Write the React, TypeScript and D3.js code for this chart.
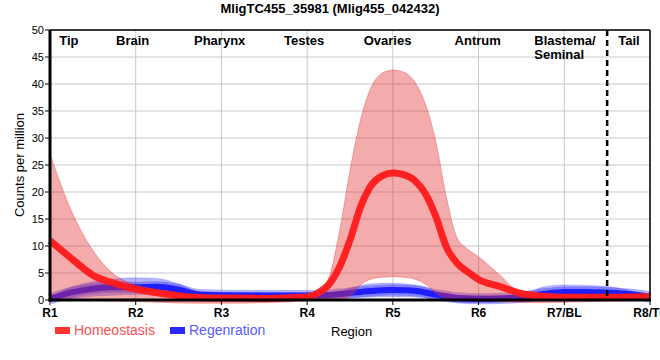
import React from "react";
import * as d3 from "d3";

const title = "MligTC455_35981 (Mlig455_042432)";
const regionPos = [1, 1.25, 1.5, 1.75, 2, 2.25, 2.5, 2.75, 3, 3.5, 4, 4.125, 4.25, 4.375, 4.5, 4.625, 4.75, 4.875, 5, 5.125, 5.25, 5.375, 5.5, 5.625, 5.75, 5.875, 6, 6.25, 6.5, 6.75, 7, 7.25, 7.5, 7.75, 8];

const homeoMean = [11, 7.7, 4.6, 3.1, 2.0, 1.35, 0.8, 0.45, 0.35, 0.3, 0.55, 1.3, 2.8, 6.0, 11.1, 17.3, 21.3, 23.0, 23.5, 23.2, 22.2, 19.8, 15.5, 9.8, 6.8, 5.2, 3.8, 2.5, 1.2, 0.7, 0.5, 0.5, 0.5, 0.55, 0.6];
const homeoUpper = [27, 16.5, 9.2, 4.7, 2.8, 1.9, 1.0, 0.6, 0.5, 0.5, 0.6, 1.6, 4.0, 12.5, 24, 33.5, 39.5, 42, 42.6, 42.2, 40.5, 36.5, 29.5, 19, 11.5, 9.4, 8.0, 4.6, 1.3, 0.9, 0.9, 0.9, 0.9, 0.9, 0.9];
const homeoLower = [0, 0, -0.1, -0.2, -0.3, -0.4, -0.55, -0.6, -0.6, -0.5, -0.1, 0.1, 0.2, 0.3, 0.7, 2.8, 3.9, 4.2, 4.3, 4.2, 3.9, 3.0, 1.3, 0.3, 0, -0.1, -0.2, -0.3, -0.45, -0.5, -0.4, -0.3, -0.2, -0.1, 0];

const regenMean = [0.2, 1.4, 2.1, 2.35, 2.35, 2.45, 1.9, 1.0, 0.9, 0.85, 0.85, 0.85, 0.95, 1.1, 1.3, 1.5, 1.65, 1.8, 1.85, 1.8, 1.7, 1.4, 1.0, 0.7, 0.4, 0.3, 0.25, 0.3, 0.5, 1.1, 1.5, 1.5, 1.35, 1.1, 0.6];
const regenUpper = [0.5, 2.4, 3.4, 3.9, 4.1, 4.0, 3.0, 1.5, 1.4, 1.35, 1.3, 1.3, 1.3, 1.5, 2.2, 2.7, 3.0, 3.1, 3.1, 3.0, 2.8, 2.4, 1.6, 1.0, 0.8, 0.8, 0.8, 0.8, 1.0, 2.4, 2.8, 2.7, 2.5, 1.8, 0.8];
const regenLower = [-0.3, 0.3, 0.7, 0.9, 1.0, 0.9, 0.6, 0.4, 0.4, 0.4, 0.4, 0.4, 0.4, 0.4, 0.45, 0.5, 0.55, 0.6, 0.6, 0.6, 0.55, 0.4, 0.2, -0.1, -0.4, -0.5, -0.5, -0.4, 0.0, 0.4, 0.6, 0.6, 0.5, 0.4, 0.3];

const xTickPos = [1, 2, 3, 4, 5, 6, 7, 8];
const xTickLabels = ["R1", "R2", "R3", "R4", "R5", "R6", "R7/BL", "R8/TL"];
const yTicks = [0, 5, 10, 15, 20, 25, 30, 35, 40, 45, 50];
const regionNames = ["Tip", "Brain", "Pharynx", "Testes", "Ovaries", "Antrum", "Blastema/|Seminal", "Tail"];
const regionNamePos = [1.108, 1.77, 2.68, 3.73, 4.66, 5.72, 6.65, 7.63];
const dividerPos = 7.5;
const seriesNames = ["Homeostasis", "Regenration"];

const W = 660, H = 360;
const L = 50, R = 650, T = 30, B = 300;

export default function App() {
  const x = d3.scaleLinear().domain([1, 8]).range([L, R]);
  const y = d3.scaleLinear().domain([0, 50]).range([B, T]);
  const font = "'Liberation Sans', Arial, sans-serif";

  const mk = (m: number[]) => regionPos.map((p, i) => [p, m[i]] as [number, number]);
  const band = (lo: number[], hi: number[]) =>
    d3.area<number>()
      .x((i) => x(regionPos[i]))
      .y0((i) => y(lo[i]))
      .y1((i) => y(hi[i]))
      .curve(d3.curveMonotoneX)(regionPos.map((_, i) => i)) || "";
  const line = (m: number[]) =>
    d3.line<[number, number]>().x((d) => x(d[0])).y((d) => y(d[1])).curve(d3.curveMonotoneX)(mk(m)) || "";

  return (
    <svg width={W} height={H} style={{ position: "absolute", left: 0, top: 0, background: "#fff" }} fontFamily={font}>
      <text x={330} y={13} textAnchor="middle" fontSize={13} fontWeight="bold">{title}</text>
      {/* grid */}
      {yTicks.map((t) => (
        <line key={"gy" + t} x1={L} x2={R} y1={y(t)} y2={y(t)} stroke="#c8c8c8" strokeWidth={1} />
      ))}
      {xTickPos.map((t) => (
        <line key={"gx" + t} x1={x(t)} x2={x(t)} y1={T} y2={B} stroke="#c8c8c8" strokeWidth={1} />
      ))}
      {/* regeneration */}
      <path d={band(regenLower, regenUpper)} fill="rgb(40,40,255)" fillOpacity={0.35} stroke="rgb(40,40,255)" strokeOpacity={0.2} />
      <path d={line(regenMean)} fill="none" stroke="rgb(30,30,255)" strokeOpacity={0.35} strokeWidth={11} />
      <path d={line(regenMean)} fill="none" stroke="rgb(30,30,255)" strokeWidth={6} />
      {/* homeostasis */}
      <path d={band(homeoLower, homeoUpper)} fill="rgb(228,45,45)" fillOpacity={0.4} stroke="rgb(228,45,45)" strokeOpacity={0.35} strokeWidth={1} />
      <path d={line(homeoMean)} fill="none" stroke="rgb(255,25,25)" strokeOpacity={0.95} strokeWidth={7} />
      {/* axes */}
      <line x1={L} x2={R} y1={T} y2={T} stroke="#000" strokeWidth={1.5} />
      <line x1={R} x2={R} y1={T} y2={B} stroke="#000" strokeWidth={1.5} />
      <line x1={L} x2={L} y1={T} y2={B + 1.5} stroke="#000" strokeWidth={3} />
      <line x1={L - 1.5} x2={R + 1} y1={B} y2={B} stroke="#000" strokeWidth={3} />
      {yTicks.map((t) => (
        <g key={"yt" + t}>
          <line x1={L - 5} x2={L} y1={y(t)} y2={y(t)} stroke="#000" strokeWidth={1} />
          <text x={L - 6} y={y(t) + 4} textAnchor="end" fontSize={11}>{t}</text>
        </g>
      ))}
      {xTickPos.map((t, i) => (
        <g key={"xt" + t}>
          <line x1={x(t)} x2={x(t)} y1={B} y2={B + 5} stroke="#000" strokeWidth={1} />
          <text x={x(t)} y={317} textAnchor="middle" fontSize={12} fontWeight="bold">{xTickLabels[i]}</text>
        </g>
      ))}
      <line x1={x(dividerPos)} x2={x(dividerPos)} y1={T} y2={B} stroke="#000" strokeWidth={2.5} strokeDasharray="6,4" />
      {regionNames.map((n, i) => {
        const parts = n.split("|");
        return (
          <text key={n} x={x(regionNamePos[i])} y={44.5} fontSize={13} fontWeight="bold">
            {parts.map((p, j) => (
              <tspan key={j} x={x(regionNamePos[i])} dy={j === 0 ? 0 : 14}>{p}</tspan>
            ))}
          </text>
        );
      })}
      <text transform="translate(24,165) rotate(-90)" textAnchor="middle" fontSize={13}>Counts per million</text>
      {/* legend */}
      <rect x={55} y={327} width={15} height={7} fill="rgb(255,50,50)" />
      <text x={74} y={335} fontSize={14} fill="rgb(255,80,80)">{seriesNames[0]}</text>
      <rect x={170} y={327} width={15} height={7} fill="rgb(40,40,255)" />
      <text x={189} y={335} fontSize={14} fill="rgb(90,90,255)">{seriesNames[1]}</text>
      <text x={331} y={336} fontSize={13}>Region</text>
    </svg>
  );
}
